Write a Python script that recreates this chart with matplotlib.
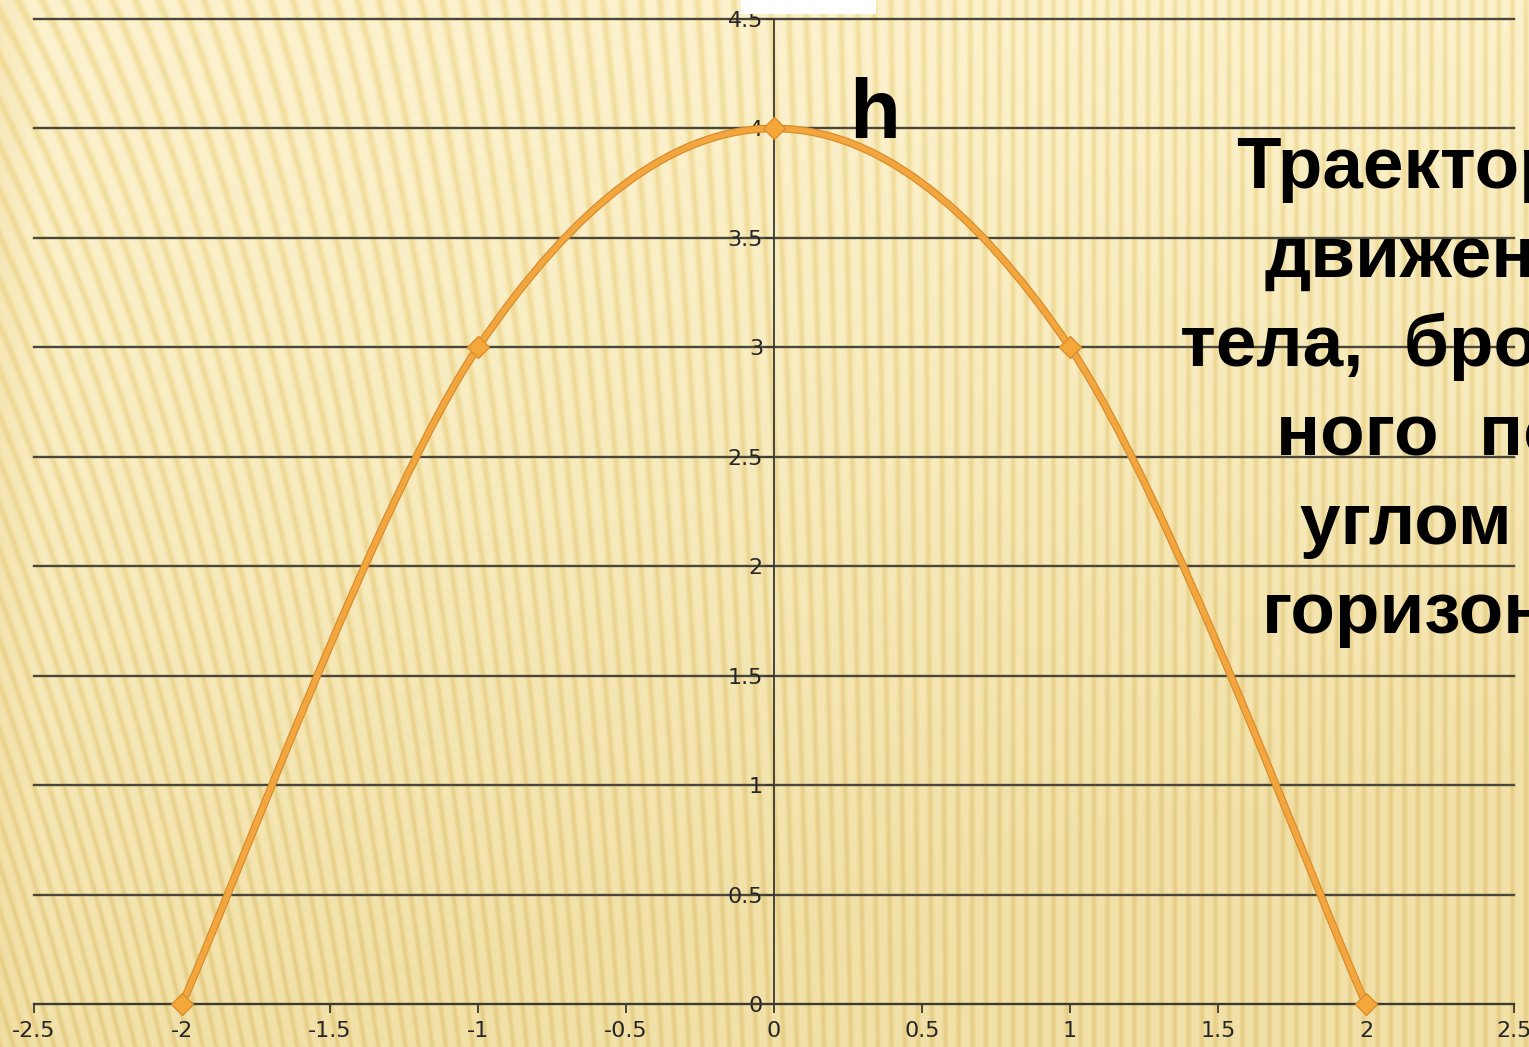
import numpy as np
import matplotlib.pyplot as plt
from matplotlib.path import Path
from matplotlib.patches import PathPatch, Rectangle

plt.rcParams['axes.unicode_minus'] = False
plt.rcParams['font.family'] = ['Liberation Sans', 'DejaVu Sans']

# data points of the trajectory
x_pts = [-2, -1, 0, 1, 2]
y_pts = [0, 3, 4, 3, 0]

x_ticks = [-2.5, -2, -1.5, -1, -0.5, 0, 0.5, 1, 1.5, 2, 2.5]
y_ticks = [0, 0.5, 1, 1.5, 2, 2.5, 3, 3.5, 4, 4.5]
x_labels = ['-2.5', '-2', '-1.5', '-1', '-0.5', '0', '0.5', '1', '1.5', '2', '2.5']
y_labels = ['0', '0.5', '1', '1.5', '2', '2.5', '3', '3.5', '4', '4.5']

peak_label = 'h'
caption_lines = ['Траектория', 'движения', 'тела,  брошен-', 'ного  под', 'углом  к', 'горизонту']


def background(H, W):
    yy, xx = np.mgrid[0:H, 0:W].astype(float)
    slant = 0.30 * np.clip(1 - xx / 1000., 0, 1) ** 1.4
    phase = (xx + slant * (H - yy)) / 13.5
    s = (0.5 + 0.5 * np.cos(2 * np.pi * phase)) ** 2.5
    t = (yy / H) ** 1.3
    r = np.clip(xx / W, 0, 1)
    light = np.array([252, 242, 206.])
    dark = np.array([243, 224, 160.])
    light_b = np.array([242, 226, 170.])
    dark_b = np.array([230, 206, 134.])
    t = np.clip(t + 0.4 * r * (yy / H) ** 0.6, 0, 1)[..., None]
    lo = light * (1 - t) + light_b * t
    hi = dark * (1 - t) + dark_b * t
    img = lo * (1 - s[..., None]) + hi * s[..., None]
    edge = np.clip(1 - xx / 40., 0, 1)[..., None] * 0.2
    img = img * (1 - edge) + np.array([232, 200, 120.]) * edge
    return np.clip(img, 0, 255).astype(np.uint8)


def smooth_path(xs, ys):
    pts = np.column_stack([xs, ys]).astype(float)
    n = len(pts)
    verts = [pts[0]]
    codes = [Path.MOVETO]
    for i in range(n - 1):
        p0 = pts[max(i - 1, 0)]
        p1 = pts[i]
        p2 = pts[i + 1]
        p3 = pts[min(i + 2, n - 1)]
        c1 = p1 + (p2 - p0) / 6.
        c2 = p2 - (p3 - p1) / 6.
        verts += [c1, c2, p2]
        codes += [Path.CURVE4] * 3
    return Path(verts, codes)


def main():
    W, H = 1529, 1047
    fig = plt.figure(figsize=(W / 100., H / 100.), dpi=100)

    bg = fig.add_axes([0, 0, 1, 1])
    bg.imshow(background(H, W), aspect='auto', interpolation='bilinear')
    bg.axis('off')

    fig.patches.append(Rectangle((741. / W, 1 - 14. / H), 135. / W, 14. / H,
                                 transform=fig.transFigure, facecolor='white',
                                 edgecolor='none', zorder=1))

    ax = fig.add_axes([34. / W, 43. / H, 1480. / W, 985. / H])
    ax.patch.set_alpha(0)
    ax.set_xlim(-2.5, 2.5)
    ax.set_ylim(0, 4.5)

    ax.spines['top'].set_visible(False)
    ax.spines['right'].set_visible(False)
    ax.spines['left'].set_position(('data', 0))
    for sp in ('left', 'bottom'):
        ax.spines[sp].set_color('#3a3a32')
        ax.spines[sp].set_linewidth(1.3)

    ax.set_xticks(x_ticks)
    ax.set_xticklabels(x_labels, family='DejaVu Sans')
    ax.set_yticks(y_ticks)
    ax.set_yticklabels(y_labels, family='DejaVu Sans')
    ax.tick_params(axis='x', direction='out', length=6.5, width=1.3, pad=6,
                   labelsize=16, colors='#3a3a32', labelcolor='#262626')
    ax.tick_params(axis='y', direction='out', length=6.5, width=1.3, pad=1.5,
                   labelsize=16, colors='#3a3a32', labelcolor='#262626')

    ax.yaxis.grid(True, color='#4a4738', linewidth=1.7)
    for gl in ax.get_ygridlines():
        gl.set_clip_on(False)
    ax.set_axisbelow(True)

    path = smooth_path(x_pts, y_pts)
    ax.add_patch(PathPatch(path, fill=False, edgecolor='#d48a2c', linewidth=5.6,
                           capstyle='round', joinstyle='round', zorder=3))
    ax.add_patch(PathPatch(path, fill=False, edgecolor='#f3a53e', linewidth=4.0,
                           capstyle='round', joinstyle='round', zorder=4))
    ax.plot(x_pts, y_pts, linestyle='none', marker='D', markersize=11,
            markerfacecolor='#f6a73a', markeredgecolor='#d98d2c',
            markeredgewidth=1.0, zorder=5, clip_on=False)

    fig.text(849. / W, 1 - 138. / H, peak_label, fontsize=60, fontweight='bold',
             ha='left', va='baseline', color='black')

    baselines = [188, 277, 366, 455, 544, 633]
    for line, yb in zip(caption_lines, baselines):
        fig.text(1444. / W, 1 - yb / float(H), line, fontsize=52.5,
                 fontweight='bold', ha='center', va='baseline', color='black')

    plt.savefig('out.png', dpi=100)
    plt.close('all')


if __name__ == '__main__':
    main()
